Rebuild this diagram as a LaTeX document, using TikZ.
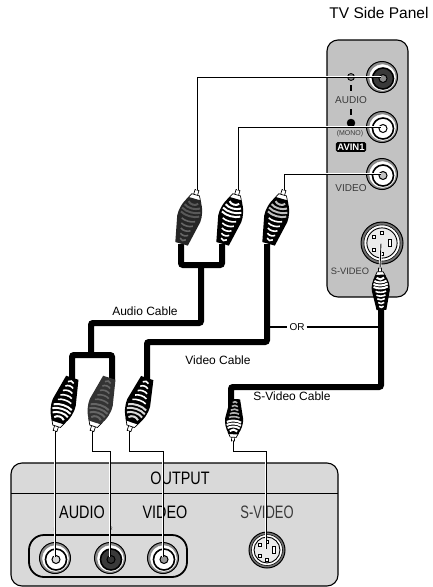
\documentclass[tikz,border=0pt]{standalone}
\usepackage{fontspec}
\setmainfont{Liberation Sans}
\usetikzlibrary{calc}
\definecolor{cPanel}{HTML}{C2C2C2}
\definecolor{cDeck}{HTML}{D9D9D9}
\definecolor{cDark}{HTML}{3A3A3A}

\tikzset{
  pics/plug/.style n args={3}{code={
    % pin and collar, then the body, then the grip rings
    \draw[fill=white, line width=0.7pt] (-2,0) -- (-2,8) -- (2,8) -- (2,0) -- cycle;
    \draw[fill=white, line width=0.7pt] (-4,5) -- (-7,11) -- (7,11) -- (4,5) -- cycle;
    \fill[#3] (-6,9) .. controls (-11,16) and (-12.5,24) .. (-12,30)
      -- (-6.5,56) -- (6.5,56) -- (12,30) .. controls (12.5,24) and (11,16) .. (6,9) -- cycle;
    \foreach \yy/\ww in {13/5, 17/8, 21/9.5, 25/9.5} {
      \draw[#1, line width=2pt] (-\ww,\yy) .. controls (-\ww/2,\yy+3) and (\ww/2,\yy+3) .. (\ww,\yy);
    }
    \foreach \yy/\ww in {31/7, 36/6, 41/5, 46/4, 51/3} {
      \draw[#2, line width=1.6pt] (-\ww,\yy) .. controls (-\ww/2,\yy+2) and (\ww/2,\yy+2) .. (\ww,\yy);
    }
  }},
  pics/rca/.style 2 args={code={
    \draw[fill=black!45, line width=1pt] (0,0) circle (15.5);
    \draw[fill=white, draw=white] (0.5,0.5) circle (13);
    \draw[fill=#1, line width=1.6pt] (1,1.5) circle (10.5);
    \draw[fill=#2, line width=1pt] (1,1.5) circle (4);
  }},
  pics/svideo/.style={code={
    \draw[fill=black!55, line width=1pt] (0,0) circle (#1);
    \draw[fill=white, line width=0.6pt] (0,0) circle (#1*0.86);
    \draw[fill=black!8, line width=0.9pt] (0,0) circle (#1*0.72);
    \foreach \px/\py in {-0.38/-0.27, -0.38/0.33, 0/-0.48, 0/0.52} {
      \draw[fill=white, line width=0.7pt] (\px*#1-1.5,\py*#1-1.5) rectangle (\px*#1+1.5,\py*#1+1.5);
    }
    \draw[fill=white, line width=0.7pt] (0.38*#1-1.8,-3.2) rectangle (0.38*#1+1.8,3.2);
  }},
}

\begin{document}
\begin{tikzpicture}[
  x=1pt, y=-1pt,
  panel/.style={rounded corners=11pt, draw=black, line width=1.1pt, fill=cPanel},
  deck/.style={rounded corners=11pt, draw=black, line width=1.1pt, fill=cDeck},
  cable/.style={draw=black, line width=6pt, rounded corners=2pt},
  wire/.style={draw=black, line width=0.9pt, preaction={draw=white, line width=2.4pt}},
  orline/.style={draw=black, line width=1.5pt},
  hole/.style={circle, inner sep=0pt, minimum size=1pt},
  lbl/.style={font=\fontsize{12}{12}\selectfont, inner sep=2pt},
  tag/.style={font=\fontsize{10}{10}\selectfont, text=cDark, inner sep=0pt},
  outp/.style={font=\fontsize{18}{18}\selectfont, inner sep=0pt, xscale=0.8, transform shape},
]
\useasboundingbox (0,0) rectangle (433,587);

% ====================== panel and deck ====================
\draw[panel] (327,40) rectangle (408,297);
\draw[deck] (11,463) rectangle (338,586);
\draw[line width=1pt] (11,493) -- (338,493);
\draw[line width=1.8pt, rounded corners=15pt] (29,535) rectangle (187,577);

% ====================== jacks ====================
\pic at (382,77) {rca={cDark}{black!45}};
\pic at (382,127) {rca={white}{white}};
\pic at (382,174) {rca={white}{cPanel}};
\pic at (382,243) {svideo=21};
\pic at (55,558) {rca={white}{cDeck}};
\pic at (110,558) {rca={cDark}{black!80}};
\pic at (163,558) {rca={white}{cDeck!70!black}};
\pic at (267,550) {svideo=18};

\node[hole] (tvAudioL) at (382,77) {};
\node[hole] (tvAudioR) at (382,127) {};
\node[hole] (tvVideo) at (382,174) {};
\node[hole] (tvSvideo) at (381,243) {};
\node[hole] (outL) at (55,558) {};
\node[hole] (outR) at (110,558) {};
\node[hole] (outV) at (163,558) {};
\node[hole] (outS) at (266,550) {};

% ====================== panel and deck texts ====================
\node[font=\fontsize{15.5}{15.5}\selectfont, inner sep=0pt] (title) at (379,13) {TV Side Panel};
\node[tag] (capAudio) at (351,100) {AUDIO};
\node[tag, font=\fontsize{7}{7}\selectfont] (capMono) at (350,134) {(MONO)};
\node[fill=black, text=white, rounded corners=1.5pt, inner sep=1.5pt,
      font=\fontsize{9.5}{9.5}\selectfont\bfseries] (capAvin) at (351,147) {AVIN1};
\node[tag] (capVideo) at (351,188) {VIDEO};
\node[tag, font=\fontsize{9.3}{9.3}\selectfont] (capSvideo) at (350,271) {S-VIDEO};
\draw[fill=black!50, line width=0.8pt] (351,77) circle (3.5);
\draw[line width=1pt] (347.5,77) -- (354.5,77);
\draw[line width=1.2pt] (351,85) -- (351,91);
\draw[line width=1.2pt] (351,109) -- (351,115);
\draw[fill=black] (351,123) circle (4);

\node[outp] (capOut) at (180,478) {OUTPUT};
\node[outp] (capA) at (82,512) {AUDIO};
\node[outp] (capV) at (165,512) {VIDEO};
\node[outp, xscale=0.9, text=cDark] (capS) at (267,512) {S-VIDEO};
\node[font=\fontsize{5}{5}\selectfont, text=cDark, inner sep=0pt] (capL) at (55,530) {L};
\node[font=\fontsize{5}{5}\selectfont, text=cDark, inner sep=0pt] (capR) at (111,529) {R};

% ====================== thick cables ====================
\coordinate (tailA) at (181,244);
\coordinate (tailB) at (222,244);
\coordinate (tailC) at (267,244);
\coordinate (tailD) at (72,380);
\coordinate (tailE) at (112,380);
\coordinate (tailF) at (147,380);
\coordinate (tailG) at (381,305);
\coordinate (tailH) at (231,408);
\coordinate (orW) at (267,327);
\coordinate (orE) at (381,327);

\draw[cable] (tailA) |- (201,265) -| (tailB);
\draw[cable] (201,265) -- (201,323) -| (91,355);
\draw[cable] (tailD) |- (91,355) -| (tailE);
\draw[cable] (tailC) -- (267,342) -| (tailF);
\draw[cable] (tailG) -- (381,387) -| (tailH);

\node[lbl, font=\fontsize{10}{10}\selectfont] (orLabel) at (297,327) {OR};
\draw[orline] (orW) -- (orLabel) -- (orE);

\node[lbl] (lblAudio) at (145,311) {Audio Cable};
\node[lbl] (lblVideo) at (218,360) {Video Cable};
\node[lbl] (lblSvideo) at (292,396) {S-Video Cable};

% ====================== plugs ====================
\coordinate (tipA) at (197,190);
\coordinate (tipB) at (238,190);
\coordinate (tipC) at (284,190);
\coordinate (tipD) at (55,431);
\coordinate (tipE) at (92,431);
\coordinate (tipF) at (129,431);
\coordinate (tipG) at (380,268);
\coordinate (tipH) at (233,441);

\pic[rotate=-16] at (tipA) {plug={black!65}{black!60}{black!85}};
\pic[rotate=-16] at (tipB) {plug={white}{white}{black}};
\pic[rotate=-16] at (tipC) {plug={black!25}{white}{black}};
\pic[rotate=162] at (tipD) {plug={white}{white}{black}};
\pic[rotate=162] at (tipE) {plug={black!60}{black!60}{black!80}};
\pic[rotate=161] at (tipF) {plug={black!15}{white}{black}};
\pic[rotate=2,scale=0.75] at (tipG) {plug={white}{white}{black}};
\pic[rotate=177,scale=0.75] at (tipH) {plug={white}{black!30}{black}};

% ====================== thin wires ====================
\draw[wire] (tipA) |- (tvAudioL);
\draw[wire] (tipB) |- (tvAudioR);
\draw[wire] (tipC) |- (tvVideo);
\draw[wire] (tipD) -- (outL);
\draw[wire] (tipE) |- (110,451) -- (outR);
\draw[wire] (tipF) |- (163,451) -- (outV);
\draw[wire] (tipG) -- (tvSvideo);
\draw[wire] (tipH) |- (266,451) -- (outS);

\end{tikzpicture}
\end{document}
